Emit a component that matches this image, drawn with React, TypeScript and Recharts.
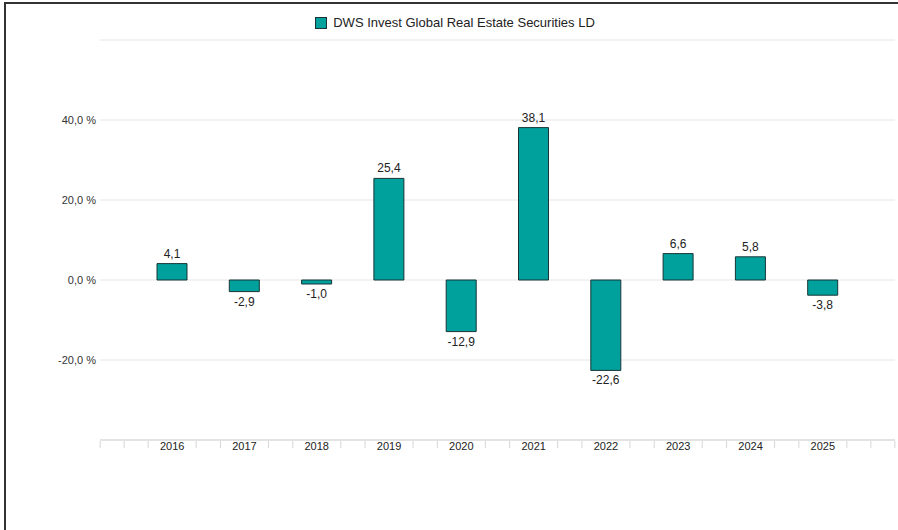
import React from "react";
import { BarChart, Bar, XAxis, YAxis, CartesianGrid, LabelList } from "recharts";

const years = ["2016", "2017", "2018", "2019", "2020", "2021", "2022", "2023", "2024", "2025"];
const returns = [4.1, -2.9, -1.0, 25.4, -12.9, 38.1, -22.6, 6.6, 5.8, -3.8];
const yTicks = [-40, -20, 0, 20, 40, 60];
const shownYTicks = [-20, 0, 20, 40];

const seriesName = "DWS Invest Global Real Estate Securities LD";
const FONT = "'Liberation Sans', Arial, Helvetica, sans-serif";
const TEAL = "#00a09d";
const EDGE = "#173535";

const data = years.map((year, i) => ({ year, value: returns[i] }));

const fmt = (v: number) => v.toFixed(1).replace(".", ",");

function YTick({ x, y, payload }: any) {
  if (!shownYTicks.includes(payload.value)) return null;
  return (
    <text x={x} y={y} dy={4} textAnchor="end" fontSize={11} fill="#333" fontFamily={FONT}>
      {fmt(payload.value)} %
    </text>
  );
}

// category label plus the faint minor ticks along the axis
function XTick({ x, y, payload, index }: any) {
  const step = 24;
  const offs = [-step, step];
  if (index === 0) offs.push(-2 * step, -3 * step);
  if (index === years.length - 1) offs.push(2 * step, 3 * step);
  return (
    <g>
      {offs.map((o) => (
        <line key={o} x1={x + o} x2={x + o} y1={y - 1} y2={y + 6} stroke="#d6d6d6" strokeWidth={1} />
      ))}
      <text x={x} y={y} dy={8} textAnchor="middle" fontSize={11} fill="#222" fontFamily={FONT}>
        {payload.value}
      </text>
    </g>
  );
}

function ValueLabel({ x, y, width, height, value }: any) {
  const top = Math.min(y, y + height);
  const bottom = Math.max(y, y + height);
  const cx = x + width / 2;
  const neg = value < 0;
  return (
    <text
      x={cx}
      y={neg ? bottom + 14 : top - 6}
      textAnchor="middle"
      fontSize={12}
      fill="#222"
      fontFamily={FONT}
    >
      {fmt(value)}
    </text>
  );
}

function ChartLegend() {
  return (
    <div
      style={{
        position: "absolute",
        top: 15,
        left: 6,
        width: 898,
        display: "flex",
        justifyContent: "center",
        alignItems: "center",
        fontFamily: FONT,
      }}
    >
      <span
        style={{
          display: "inline-block",
          width: 10,
          height: 10,
          background: TEAL,
          border: `1px solid ${EDGE}`,
          marginRight: 6,
        }}
      />
      <span style={{ fontSize: 13, color: "#222" }}>{seriesName}</span>
    </div>
  );
}

export default function App() {
  return (
    <div style={{ position: "absolute", left: 0, top: 0, width: 898, height: 530, background: "#fff" }}>
      <div
        style={{
          position: "absolute",
          left: 4,
          top: 2,
          right: 0,
          bottom: 0,
          borderLeft: "2px solid #333",
          borderTop: "2px solid #333",
        }}
      />
      <BarChart
        width={898}
        height={530}
        data={data}
        margin={{ top: 40, right: 3, left: 8, bottom: 60 }}
        style={{ position: "absolute", left: 0, top: 0 }}
      >
        <CartesianGrid vertical={false} stroke="#e6e6e6" />
        <XAxis
          dataKey="year"
          tick={<XTick />}
          tickLine={false}
          axisLine={{ stroke: "#e3e3e3", strokeWidth: 2 }}
          tickSize={0}
          tickMargin={2}
          padding={{ left: 36, right: 36 }}
          interval={0}
        />
        <YAxis
          width={92}
          domain={[-40, 60]}
          ticks={yTicks}
          tick={<YTick />}
          tickLine={false}
          axisLine={false}
          tickSize={0}
          tickMargin={4}
        />
        <Bar dataKey="value" name={seriesName} fill={TEAL} stroke={EDGE} strokeWidth={1} barSize={30} isAnimationActive={false}>
          <LabelList dataKey="value" content={<ValueLabel />} />
        </Bar>
      </BarChart>
      <ChartLegend />
    </div>
  );
}
